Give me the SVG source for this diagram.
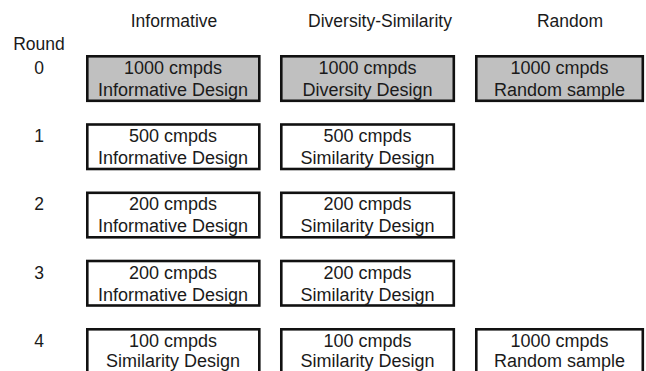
<svg xmlns="http://www.w3.org/2000/svg" width="646" height="371" viewBox="0 0 646 371">
<style>
text{font-family:"Liberation Sans",Arial,sans-serif;fill:#1a1a1a;text-anchor:middle}
.h{font-size:17.5px}
.t{font-size:18px}
.box{stroke:#111;stroke-width:2.6;fill:#fff}
.g{fill:#c0c0c0}
</style>
<rect width="646" height="371" fill="#fff"/>
<g id="headers">
<text class="h" x="174" y="27">Informative</text>
<text class="h" x="380" y="27">Diversity-Similarity</text>
<text class="h" x="570" y="27">Random</text>
<text class="h" x="39" y="50">Round</text>
<text class="h" x="39" y="74">0</text>
<text class="h" x="39" y="142">1</text>
<text class="h" x="39" y="210">2</text>
<text class="h" x="39" y="279">3</text>
<text class="h" x="39" y="347">4</text>
</g>
<g id="connectors"/>
<g id="r0c1"><rect class="box g" x="87.3" y="56.3" width="172" height="44.5"/><text class="t" x="173" y="73.5">1000 cmpds</text><text class="t" x="173" y="95.5">Informative Design</text></g>
<g id="r0c2"><rect class="box g" x="281.3" y="56.3" width="172.5" height="44.5"/><text class="t" x="367.5" y="73.5">1000 cmpds</text><text class="t" x="367.5" y="95.5">Diversity Design</text></g>
<g id="r0c3"><rect class="box g" x="476.3" y="56.3" width="166.5" height="44.5"/><text class="t" x="559.5" y="73.5">1000 cmpds</text><text class="t" x="559.5" y="95.5">Random sample</text></g>
<g id="r1c1"><rect class="box" x="87.3" y="124.5" width="172" height="44.5"/><text class="t" x="173" y="141.7">500 cmpds</text><text class="t" x="173" y="163.7">Informative Design</text></g>
<g id="r1c2"><rect class="box" x="281.3" y="124.5" width="172.5" height="44.5"/><text class="t" x="367.5" y="141.7">500 cmpds</text><text class="t" x="367.5" y="163.7">Similarity Design</text></g>
<g id="r2c1"><rect class="box" x="87.3" y="192.8" width="172" height="44.5"/><text class="t" x="173" y="210">200 cmpds</text><text class="t" x="173" y="232">Informative Design</text></g>
<g id="r2c2"><rect class="box" x="281.3" y="192.8" width="172.5" height="44.5"/><text class="t" x="367.5" y="210">200 cmpds</text><text class="t" x="367.5" y="232">Similarity Design</text></g>
<g id="r3c1"><rect class="box" x="87.3" y="261" width="172" height="44.5"/><text class="t" x="173" y="279">200 cmpds</text><text class="t" x="173" y="301">Informative Design</text></g>
<g id="r3c2"><rect class="box" x="281.3" y="261" width="172.5" height="44.5"/><text class="t" x="367.5" y="279">200 cmpds</text><text class="t" x="367.5" y="301">Similarity Design</text></g>
<g id="r4c1"><rect class="box" x="87.3" y="329.3" width="172" height="44.5"/><text class="t" x="173" y="346.5">100 cmpds</text><text class="t" x="173" y="366.5">Similarity Design</text></g>
<g id="r4c2"><rect class="box" x="281.3" y="329.3" width="172.5" height="44.5"/><text class="t" x="367.5" y="346.5">100 cmpds</text><text class="t" x="367.5" y="366.5">Similarity Design</text></g>
<g id="r4c3"><rect class="box" x="476.3" y="329.3" width="166.5" height="44.5"/><text class="t" x="559.5" y="346.5">1000 cmpds</text><text class="t" x="559.5" y="366.5">Random sample</text></g>
</svg>
